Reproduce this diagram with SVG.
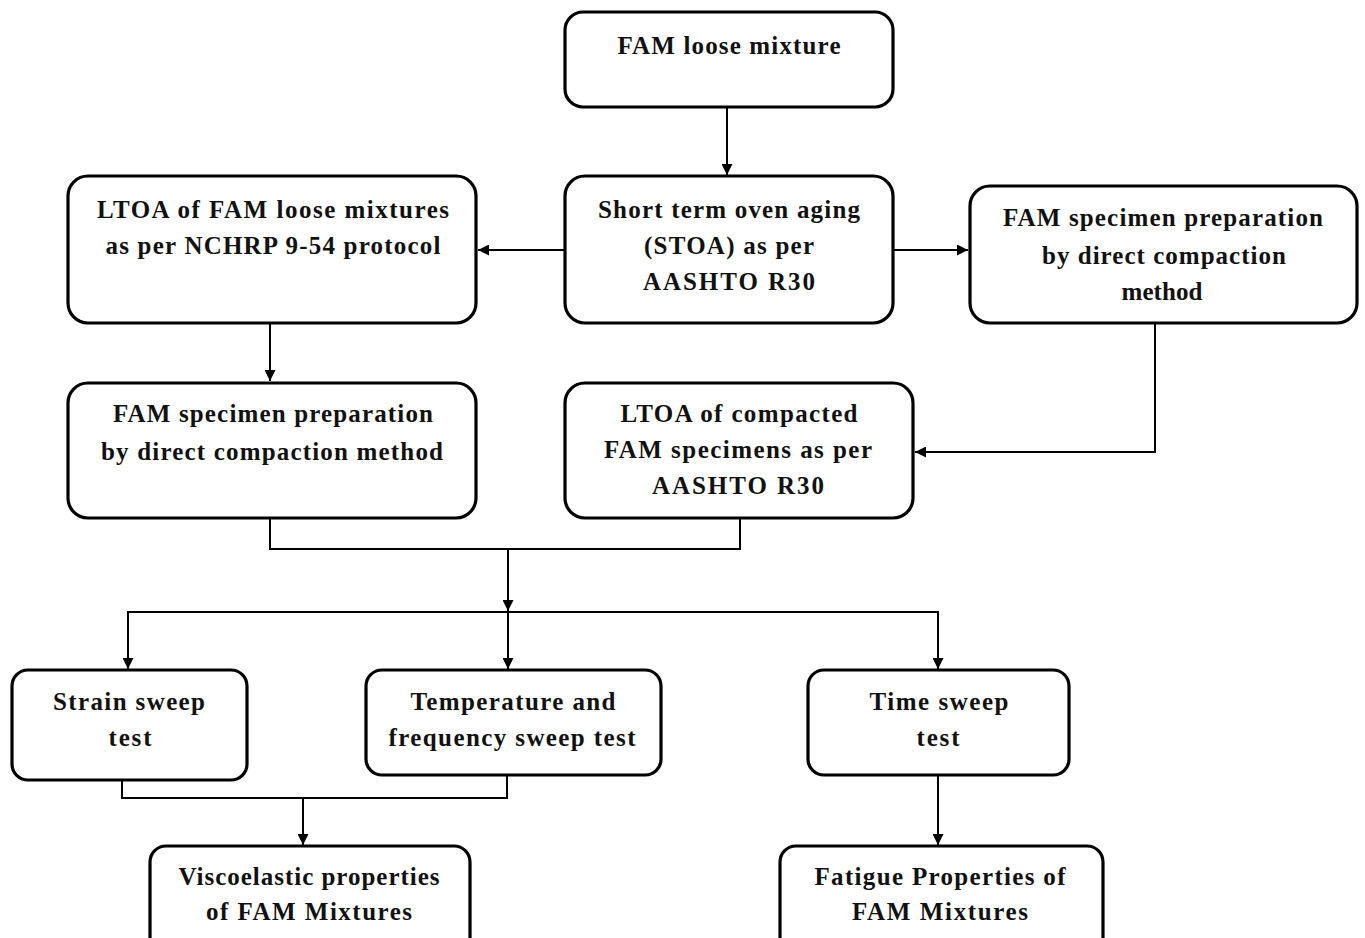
<svg xmlns="http://www.w3.org/2000/svg" width="1365" height="938" viewBox="0 0 1365 938">
<defs>
<style>
.box{fill:#fff;stroke:#000;stroke-width:3.2}
.t{font-family:"Liberation Serif","Times New Roman",serif;font-weight:bold;font-size:25px;fill:#111;text-anchor:middle}
.c{fill:none;stroke:#000;stroke-width:2}
</style>
<marker id="ah" viewBox="0 0 10 10" refX="10" refY="5" markerWidth="11" markerHeight="11" markerUnits="userSpaceOnUse" orient="auto">
<path d="M0,0 L10,5 L0,10 z" fill="#000"/>
</marker>
</defs>
<rect width="1365" height="938" fill="#fff"/>
<g id="connectors">
<path class="c" d="M727,107 V175" marker-end="url(#ah)"/>
<path class="c" d="M565,250 H478" marker-end="url(#ah)"/>
<path class="c" d="M893,250 H968" marker-end="url(#ah)"/>
<path class="c" d="M270,323 V381" marker-end="url(#ah)"/>
<path class="c" d="M1155,323 V452 H915" marker-end="url(#ah)"/>
<path class="c" d="M270,518 V549 H740 V518"/>
<path class="c" d="M508,549 V611" marker-end="url(#ah)"/>
<path class="c" d="M128,669 V612 H938 V669" marker-end="url(#ah)"/>
<path class="c" d="M508,612 V669" marker-end="url(#ah)"/>
<path class="c" d="M128,612 V669" marker-end="url(#ah)"/>
<path class="c" d="M122,780 V798 H507 V775"/>
<path class="c" d="M303,798 V845" marker-end="url(#ah)"/>
<path class="c" d="M938,775 V845" marker-end="url(#ah)"/>
</g>
<g id="n1"><rect class="box" x="565" y="12" width="328" height="95" rx="18"/>
<text class="t" x="729" y="54" textLength="223" lengthAdjust="spacing">FAM loose mixture</text></g>
<g id="n2"><rect class="box" x="565" y="176" width="328" height="147" rx="20"/>
<text class="t" x="729" y="218" textLength="262" lengthAdjust="spacing">Short term oven aging</text>
<text class="t" x="729" y="254" textLength="170" lengthAdjust="spacing">(STOA) as per</text>
<text class="t" x="729" y="290" textLength="172" lengthAdjust="spacing">AASHTO R30</text></g>
<g id="n3"><rect class="box" x="68" y="176" width="408" height="147" rx="20"/>
<text class="t" x="273" y="218" textLength="352" lengthAdjust="spacing">LTOA of FAM loose mixtures</text>
<text class="t" x="273" y="254" textLength="335" lengthAdjust="spacing">as per NCHRP 9-54 protocol</text></g>
<g id="n4"><rect class="box" x="970" y="186" width="387" height="137" rx="20"/>
<text class="t" x="1163" y="226" textLength="320" lengthAdjust="spacing">FAM specimen preparation</text>
<text class="t" x="1164" y="264" textLength="244" lengthAdjust="spacing">by direct compaction</text>
<text class="t" x="1162" y="300" textLength="81" lengthAdjust="spacing">method</text></g>
<g id="n5"><rect class="box" x="68" y="383" width="408" height="135" rx="20"/>
<text class="t" x="273" y="422" textLength="320" lengthAdjust="spacing">FAM specimen preparation</text>
<text class="t" x="272" y="460" textLength="342" lengthAdjust="spacing">by direct compaction method</text></g>
<g id="n6"><rect class="box" x="565" y="383" width="348" height="135" rx="20"/>
<text class="t" x="739" y="422" textLength="237" lengthAdjust="spacing">LTOA of compacted</text>
<text class="t" x="738" y="458" textLength="268" lengthAdjust="spacing">FAM specimens as per</text>
<text class="t" x="738" y="494" textLength="172" lengthAdjust="spacing">AASHTO R30</text></g>
<g id="n7"><rect class="box" x="12" y="670" width="235" height="110" rx="16"/>
<text class="t" x="129" y="710" textLength="152" lengthAdjust="spacing">Strain sweep</text>
<text class="t" x="130" y="746" textLength="43" lengthAdjust="spacing">test</text></g>
<g id="n8"><rect class="box" x="366" y="670" width="295" height="105" rx="16"/>
<text class="t" x="513" y="710" textLength="205" lengthAdjust="spacing">Temperature and</text>
<text class="t" x="512" y="746" textLength="247" lengthAdjust="spacing">frequency sweep test</text></g>
<g id="n9"><rect class="box" x="808" y="670" width="261" height="105" rx="16"/>
<text class="t" x="939" y="710" textLength="139" lengthAdjust="spacing">Time sweep</text>
<text class="t" x="938" y="746" textLength="43" lengthAdjust="spacing">test</text></g>
<g id="n10"><rect class="box" x="150" y="846" width="320" height="110" rx="16"/>
<text class="t" x="309" y="885" textLength="261" lengthAdjust="spacing">Viscoelastic properties</text>
<text class="t" x="309" y="920" textLength="206" lengthAdjust="spacing">of FAM Mixtures</text></g>
<g id="n11"><rect class="box" x="780" y="846" width="323" height="110" rx="16"/>
<text class="t" x="940" y="885" textLength="251" lengthAdjust="spacing">Fatigue Properties of</text>
<text class="t" x="940" y="920" textLength="176" lengthAdjust="spacing">FAM Mixtures</text></g>
</svg>
